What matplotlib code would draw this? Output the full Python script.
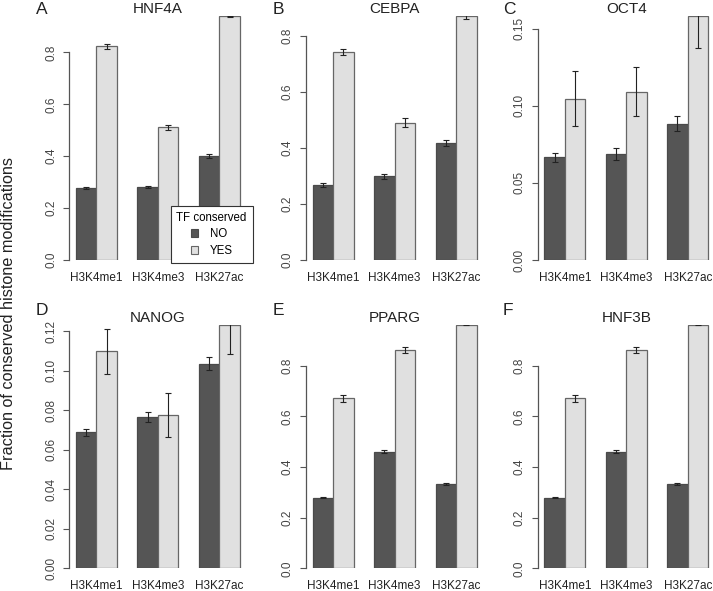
import matplotlib
matplotlib.use("Agg")
import matplotlib.pyplot as plt
from matplotlib.patches import Patch
import numpy as np

plt.rcParams['font.family'] = ['Liberation Sans', 'DejaVu Sans']

marks = ["H3K4me1", "H3K4me3", "H3K27ac"]
panel_letters = ["A", "B", "C", "D", "E", "F"]
tf_names = ["HNF4A", "CEBPA", "OCT4", "NANOG", "PPARG", "HNF3B"]

hnf4a_no = [0.277, 0.281, 0.400]
hnf4a_yes = [0.823, 0.511, 0.939]
hnf4a_no_err = [0.003, 0.005, 0.008]
hnf4a_yes_err = [0.008, 0.009, 0.002]

cebpa_no = [0.268, 0.298, 0.417]
cebpa_yes = [0.742, 0.490, 0.869]
cebpa_no_err = [0.007, 0.010, 0.010]
cebpa_yes_err = [0.011, 0.016, 0.008]

oct4_no = [0.0665, 0.0686, 0.0885]
oct4_yes = [0.1045, 0.1092, 0.158]
oct4_no_err = [0.0032, 0.0040, 0.0050]
oct4_yes_err = [0.0179, 0.0157, 0.0203]

nanog_no = [0.0689, 0.0766, 0.1035]
nanog_yes = [0.1098, 0.0775, 0.1232]
nanog_no_err = [0.0018, 0.0024, 0.0032]
nanog_yes_err = [0.0114, 0.0111, 0.0150]

pparg_no = [0.279, 0.461, 0.333]
pparg_yes = [0.672, 0.862, 0.962]
pparg_no_err = [0.003, 0.006, 0.003]
pparg_yes_err = [0.014, 0.013, 0.003]

hnf3b_no = [0.279, 0.461, 0.333]
hnf3b_yes = [0.672, 0.862, 0.962]
hnf3b_no_err = [0.003, 0.006, 0.003]
hnf3b_yes_err = [0.014, 0.013, 0.003]

yticks_02 = [0.0, 0.2, 0.4, 0.6, 0.8]
yticks_oct4 = [0.00, 0.05, 0.10, 0.15]
yticks_nanog = [0.00, 0.02, 0.04, 0.06, 0.08, 0.10, 0.12]

panels = [
    (hnf4a_no, hnf4a_yes, hnf4a_no_err, hnf4a_yes_err, yticks_02, "%.1f"),
    (cebpa_no, cebpa_yes, cebpa_no_err, cebpa_yes_err, yticks_02, "%.1f"),
    (oct4_no, oct4_yes, oct4_no_err, oct4_yes_err, yticks_oct4, "%.2f"),
    (nanog_no, nanog_yes, nanog_no_err, nanog_yes_err, yticks_nanog, "%.2f"),
    (pparg_no, pparg_yes, pparg_no_err, pparg_yes_err, yticks_02, "%.1f"),
    (hnf3b_no, hnf3b_yes, hnf3b_no_err, hnf3b_yes_err, yticks_02, "%.1f"),
]

W, H = 713, 591
fig = plt.figure(figsize=(W / 100, H / 100), dpi=100)

col_left = [69.4, 306.1, 537.7]
row_bottom = [260.0, 568.3]
ax_w = 177.1
ax_h = 243.6

dark = "#555555"
light = "#e0e0e0"
edge = "#4a4a4a"
txt = "#222222"

letter_pos = [(35.5, 14), (273, 14), (503, 14.5), (35.5, 315), (273, 315), (503, 315)]

for i, (no, yes, no_e, yes_e, yt, fmt) in enumerate(panels):
    r, c = divmod(i, 3)
    left = col_left[c] / W
    bottom = (H - row_bottom[r]) / H
    ax = fig.add_axes([left, bottom, ax_w / W, ax_h / H])
    n = len(marks)
    x_no = np.arange(n) * 3 + 1.5
    x_yes = x_no + 1
    ax.bar(x_no, no, width=1, color=dark, edgecolor=edge, linewidth=0.9, zorder=2)
    ax.bar(x_yes, yes, width=1, color=light, edgecolor="#666666", linewidth=0.9, zorder=2)
    ax.errorbar(x_no, no, yerr=no_e, fmt="none", ecolor="#222222", elinewidth=0.8,
                capsize=2.0, capthick=0.8, zorder=3)
    ax.errorbar(x_yes, yes, yerr=yes_e, fmt="none", ecolor="#222222", elinewidth=0.8,
                capsize=2.0, capthick=0.8, zorder=3)
    ax.set_xlim(0.68, 9.32)
    ax.set_ylim(0, max(yes))
    for s in ["top", "right", "bottom"]:
        ax.spines[s].set_visible(False)
    ax.spines["left"].set_color("#555555")
    ax.spines["left"].set_linewidth(0.9)
    ax.spines["left"].set_bounds(yt[0], yt[-1])
    ax.set_yticks(yt)
    ax.set_yticklabels([fmt % v for v in yt], rotation=90, va="center", fontsize=8.5, color="#444444")
    ax.tick_params(axis="y", length=4.3, width=0.8, color="#555555", pad=4.5)
    ax.set_xticks(x_no + 0.5)
    ax.set_xticklabels(marks, fontsize=8.5, color=txt)
    ax.tick_params(axis="x", length=0, pad=8.5)
    ax.set_title(tf_names[i], fontsize=11, pad=0.5, color=txt)
    ax.patch.set_visible(False)
    lx, ly = letter_pos[i]
    fig.text(lx / W, 1 - ly / H, panel_letters[i], fontsize=12.5, ha="left", va="baseline", color=txt)

fig.text(9 / W, 1 - 313 / H, "Fraction of conserved histone modifications",
         rotation=90, ha="center", va="center", fontsize=11.7, color=txt)

handles = [Patch(facecolor=dark, edgecolor=edge, linewidth=0.8),
           Patch(facecolor=light, edgecolor="#666666", linewidth=0.8)]
leg = fig.legend(handles, ["NO", "YES"], title="TF conserved", loc="upper left",
                 bbox_to_anchor=(170.7 / W, 1 - 206 / H), fontsize=8.3, title_fontsize=8.3,
                 frameon=True, fancybox=False, framealpha=1, edgecolor="#333333",
                 handlelength=0.65, handleheight=0.65, handletextpad=1.0,
                 borderpad=0.5, labelspacing=0.4, borderaxespad=0)
leg.get_frame().set_linewidth(0.8)
leg.set_zorder(10)

fig.savefig("out.png", dpi=100)
